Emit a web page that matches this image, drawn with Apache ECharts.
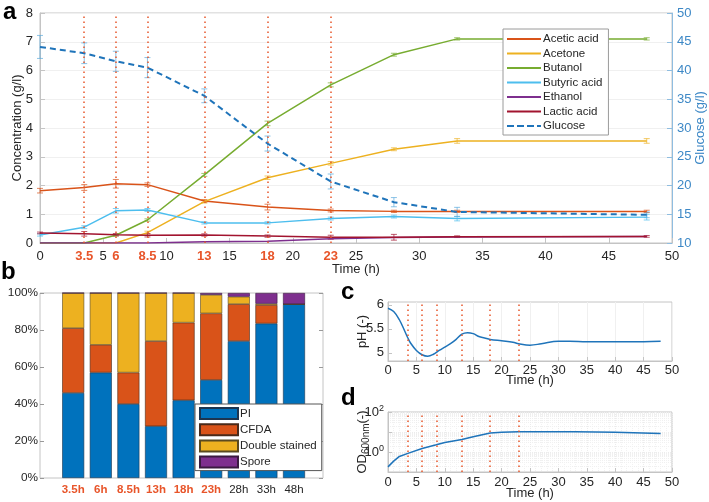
<!DOCTYPE html>
<html><head><meta charset="utf-8">
<script src="https://cdn.jsdelivr.net/npm/echarts@6/dist/echarts.min.js"></script>
<style>html,body{margin:0;padding:0;background:#fff}#c{width:709px;height:502px}</style>
</head><body><div id="c"></div>
<script>
// ---- Panel a data ----
const timeA = [0, 3.5, 6, 8.5, 13, 18, 23, 28, 33, 48];
const acetic  = [1.82, 1.93, 2.06, 2.03, 1.46, 1.25, 1.13, 1.1, 1.1, 1.1];
const acetone = [0, 0, 0, 0.36, 1.44, 2.27, 2.77, 3.26, 3.55, 3.55];
const butanol = [0, 0, 0.27, 0.8, 2.37, 4.16, 5.5, 6.55, 7.1, 7.1];
const butyric = [0.28, 0.55, 1.12, 1.15, 0.7, 0.7, 0.85, 0.92, 0.85, 0.9];
const ethanol = [0, 0, 0, 0, 0.04, 0.06, 0.15, 0.19, 0.21, 0.23];
const lactic  = [0.35, 0.32, 0.29, 0.27, 0.28, 0.24, 0.2, 0.2, 0.22, 0.23];
const glucose = [44.1, 43.0, 41.6, 40.5, 35.6, 27.3, 20.7, 17.1, 15.4, 14.9];
const glucoseErr = [2.0, 1.8, 1.75, 1.75, 1.2, 1.3, 1.3, 0.8, 0.8, 0.5];
const aceticErr  = [0.08, 0.1, 0.15, 0.06, 0.05, 0.1, 0.05, 0.04, 0.04, 0.04];
const acetoneErr = [0, 0, 0, 0.05, 0.05, 0.06, 0.06, 0.05, 0.08, 0.08];
const butanolErr = [0, 0, 0.03, 0.04, 0.05, 0.08, 0.07, 0.05, 0.04, 0.04];
const butyricErr = [0.04, 0.05, 0.08, 0.05, 0.04, 0.04, 0.05, 0.05, 0.08, 0.1];
const lacticErr  = [0.03, 0.08, 0.04, 0.06, 0.04, 0.04, 0.07, 0.1, 0.03, 0.03];
const sampleTimes = [3.5, 6, 8.5, 13, 18, 23];
const xTickLabelsA = [0, 3.5, 5, 6, 8.5, 10, 13, 15, 18, 20, 23, 25, 30, 35, 40, 45, 50];

// ---- Panel b data ----
const cats = ['3.5h', '6h', '8.5h', '13h', '18h', '23h', '28h', '33h', '48h'];
const highlighted = ['3.5h', '6h', '8.5h', '13h', '18h', '23h'];
const PI    = [46, 57, 40, 28, 42, 53, 74, 83.5, 94];
const CFDA  = [35, 15, 17, 46, 42, 36, 20, 10, 0];
const DS    = [19, 28, 43, 26, 16, 10, 4, 0.7, 0];
const Spore = [0, 0, 0, 0, 0, 1, 2, 5.8, 6];

// ---- Panel c data ----
const phT = [0,1,2,3,3.5,4,5,6,7,8,9,10,11,12,13,14,15,16,17,18,20,22,23,25,27,30,32,35,40,45,48];
const phV = [5.93,5.86,5.69,5.44,5.31,5.2,5.05,4.96,4.93,4.97,5.05,5.12,5.19,5.28,5.39,5.42,5.40,5.34,5.31,5.28,5.25,5.22,5.19,5.16,5.19,5.24,5.24,5.23,5.23,5.23,5.24];

// ---- Panel d data ----
const odT = [0,1,2,3.5,6,8.5,10,13,15,18,20,23,28,33,40,48];
const odV = [0.18,0.35,0.6,0.85,1.5,2.3,3.0,4.2,5.8,8.9,9.6,10.2,10.4,10.4,9.6,8.3];

const C = {acetic:'#D95319', acetone:'#EDB120', butanol:'#77AC30', butyric:'#4DBEEE', ethanol:'#7E2F8E', lactic:'#A2142F', glucose:'#1f74ba'};
const FONT = 'Liberation Sans, Arial, sans-serif';
const TXT = '#262626';
const AX = '#c4c4c4';
const BLUE = '#3d88c6';
const SOLID_ICON = 'path://M0,0H34V2H0Z';
const DASH_ICON = 'path://M0,0H7V2H0Z M10,0H17V2H10Z M20,0H27V2H20Z M30,0H34V2H30Z';

const pairs = (xs, ys) => xs.map((x, i) => [x, ys[i]]);
const triples = (xs, ys, es) => xs.map((x, i) => [x, ys[i], es[i]]);

function errSeries(name, ys, es, color, yAxisIndex) {
  return {
    type: 'custom', name: name + ' err', xAxisIndex: 0, yAxisIndex: yAxisIndex, z: 1, silent: true,
    data: triples(timeA, ys, es).filter(d => d[2] > 0),
    encode: {x: 0, y: 1},
    renderItem: function (params, api) {
      const x = api.value(0), y = api.value(1), e = api.value(2);
      const top = api.coord([x, y + e]);
      const bot = api.coord([x, y - e]);
      const w = 3;
      const st = {stroke: color, lineWidth: 1, opacity: 0.7};
      return {type: 'group', children: [
        {type: 'line', shape: {x1: top[0], y1: top[1], x2: bot[0], y2: bot[1]}, style: st},
        {type: 'line', shape: {x1: top[0]-w, y1: top[1], x2: top[0]+w, y2: top[1]}, style: st},
        {type: 'line', shape: {x1: bot[0]-w, y1: bot[1], x2: bot[0]+w, y2: bot[1]}, style: st}
      ]};
    }
  };
}

function lineSeries(name, ys, color, yAxisIndex, dashed) {
  return {
    type: 'line', name: name, xAxisIndex: 0, yAxisIndex: yAxisIndex, data: pairs(timeA, ys),
    symbol: 'none', z: 3,
    lineStyle: {color: color, width: dashed ? 2 : 1.5, type: dashed ? [6, 4] : 'solid'},
    itemStyle: {color: color}
  };
}

const vLineMark = () => ({
  silent: true, symbol: 'none',
  lineStyle: {color: '#e8552a', type: [1.5, 3.5], width: 1.5},
  label: {show: false},
  data: sampleTimes.map(t => ({xAxis: t}))
});

const labelStyle = {fontFamily: FONT, fontSize: 13, color: TXT};
const gridBase = {outerBoundsMode: 'none', containLabel: false};

const option = {
  animation: false,
  textStyle: {fontFamily: FONT},
  graphic: [
    {type: 'text', left: 3, top: 0, style: {text: 'a', font: 'bold 24px ' + FONT, fill: '#000'}},
    {type: 'text', left: 1, top: 260, style: {text: 'b', font: 'bold 24px ' + FONT, fill: '#000'}},
    {type: 'text', left: 341, top: 280, style: {text: 'c', font: 'bold 24px ' + FONT, fill: '#000'}},
    {type: 'text', left: 341, top: 386, style: {text: 'd', font: 'bold 24px ' + FONT, fill: '#000'}}
  ],
  grid: [
    {...gridBase, left: 40, top: 13, width: 632, height: 230, show: true, borderColor: AX, borderWidth: 1},
    {...gridBase, left: 40, top: 293, width: 283, height: 185, show: true, borderColor: AX, borderWidth: 1},
    {...gridBase, left: 59.4, top: 293, width: 248.4, height: 185},
    {...gridBase, left: 388, top: 302, width: 284, height: 59, show: true, borderColor: AX, borderWidth: 1},
    {...gridBase, left: 388, top: 412, width: 284, height: 60, show: true, borderColor: AX, borderWidth: 1}
  ],
  legend: [
    {
      data: [
        {name: 'Acetic acid', icon: SOLID_ICON}, {name: 'Acetone', icon: SOLID_ICON},
        {name: 'Butanol', icon: SOLID_ICON}, {name: 'Butyric acid', icon: SOLID_ICON},
        {name: 'Ethanol', icon: SOLID_ICON}, {name: 'Lactic acid', icon: SOLID_ICON},
        {name: 'Glucose', icon: DASH_ICON}
      ],
      orient: 'vertical', left: 503, top: 29, padding: [4, 6, 3, 4], itemGap: 2.5,
      itemWidth: 34, itemHeight: 12, backgroundColor: '#fff', borderColor: '#9a9a9a', borderWidth: 1,
      textStyle: {fontFamily: FONT, fontSize: 11.5, color: TXT, padding: [0, 0, 0, -3]}
    },
    {
      data: ['PI', 'CFDA', 'Double stained', 'Spore'],
      orient: 'vertical', left: 195, top: 404, padding: [3, 5, 2, 4], itemGap: 3.2,
      itemWidth: 38, itemHeight: 11, icon: 'rect', backgroundColor: '#fff', borderColor: '#555', borderWidth: 1,
      textStyle: {fontFamily: FONT, fontSize: 11.5, color: TXT, padding: [0, 0, 0, -3]}
    }
  ],
  xAxis: [
    { // a
      gridIndex: 0, type: 'value', min: 0, max: 50, interval: 5,
      name: 'Time (h)', nameLocation: 'middle', nameGap: 20, nameMoveOverlap: false, nameTextStyle: labelStyle,
      axisLine: {lineStyle: {color: AX}}, axisTick: {inside: true, length: 5, lineStyle: {color: AX}},
      axisLabel: {
        customValues: xTickLabelsA, margin: 7, fontFamily: FONT, fontSize: 13, color: TXT,
        formatter: v => sampleTimes.indexOf(v) >= 0 ? '{r|' + v + '}' : String(v),
        rich: {r: {color: '#e8552a', fontWeight: 'bold', fontSize: 13, fontFamily: FONT}}
      },
      splitLine: {show: false}
    },
    { // b category
      gridIndex: 2, type: 'category', data: cats,
      axisLine: {show: false}, axisTick: {show: false},
      axisLabel: {
        interval: 0, margin: 6, fontFamily: FONT, fontSize: 11.5, color: TXT,
        formatter: v => highlighted.indexOf(v) >= 0 ? '{r|' + v + '}' : v,
        rich: {r: {color: '#e8552a', fontWeight: 'bold', fontSize: 11.5, fontFamily: FONT}}
      }
    },
    { // c
      gridIndex: 3, type: 'value', min: 0, max: 50, interval: 5,
      name: 'Time (h)', nameLocation: 'middle', nameGap: 12.5, nameMoveOverlap: false, nameTextStyle: labelStyle,
      axisLine: {lineStyle: {color: AX}}, axisTick: {inside: true, length: 4, lineStyle: {color: AX}},
      axisLabel: {margin: 3, fontFamily: FONT, fontSize: 13, color: TXT},
      splitLine: {show: true, lineStyle: {color: '#f0f0f0'}}
    },
    { // d
      gridIndex: 4, type: 'value', min: 0, max: 50, interval: 5,
      name: 'Time (h)', nameLocation: 'middle', nameGap: 14.5, nameMoveOverlap: false, nameTextStyle: labelStyle,
      axisLine: {lineStyle: {color: AX}}, axisTick: {inside: true, length: 4, lineStyle: {color: AX}},
      axisLabel: {margin: 4, fontFamily: FONT, fontSize: 13, color: TXT},
      splitLine: {show: true, lineStyle: {color: '#ececec', type: 'dotted'}},
      minorTick: {show: false, splitNumber: 5},
      minorSplitLine: {show: true, lineStyle: {color: '#f2f2f2', type: 'dotted'}}
    }
  ],
  yAxis: [
    { // a left
      gridIndex: 0, type: 'value', min: 0, max: 8, interval: 1,
      name: 'Concentration (g/l)', nameLocation: 'middle', nameGap: 16, nameMoveOverlap: false, nameTextStyle: labelStyle,
      axisLine: {show: true, lineStyle: {color: AX}}, axisTick: {show: true, inside: true, length: 5, lineStyle: {color: AX}},
      axisLabel: {margin: 7, fontFamily: FONT, fontSize: 13, color: TXT},
      splitLine: {show: true, lineStyle: {color: '#f0f0f0'}}
    },
    { // a right
      gridIndex: 0, type: 'value', min: 10, max: 50, interval: 5, position: 'right',
      name: 'Glucose (g/l)', nameLocation: 'middle', nameGap: 22, nameRotate: 90, nameMoveOverlap: false,
      nameTextStyle: {fontFamily: FONT, fontSize: 13, color: BLUE},
      axisLine: {show: true, lineStyle: {color: '#8fbde0'}}, axisTick: {show: true, inside: true, length: 5, lineStyle: {color: '#8fbde0'}},
      axisLabel: {margin: 5, fontFamily: FONT, fontSize: 13, color: BLUE},
      splitLine: {show: false}
    },
    { // b left
      gridIndex: 2, type: 'value', min: 0, max: 100, interval: 20, offset: 19.4,
      axisLine: {show: false}, axisTick: {show: true, inside: true, length: 4, lineStyle: {color: '#999'}},
      axisLabel: {margin: 2, fontFamily: FONT, fontSize: 11.8, color: TXT, formatter: '{value}%'},
      splitLine: {show: false}
    },
    { // b right ticks
      gridIndex: 2, type: 'value', min: 0, max: 100, interval: 20, offset: 15.2, position: 'right',
      axisLine: {show: false}, axisTick: {show: true, inside: true, length: 4, lineStyle: {color: '#999'}},
      axisLabel: {show: false}, splitLine: {show: false}
    },
    { // c
      gridIndex: 3, type: 'value', min: 4.83, max: 6.06,
      name: 'pH (-)', nameLocation: 'middle', nameGap: 19, nameMoveOverlap: false, nameTextStyle: labelStyle,
      axisLine: {show: true, lineStyle: {color: AX}},
      axisTick: {show: true, inside: true, length: 4, customValues: [5, 5.5, 6], lineStyle: {color: AX}},
      axisLabel: {margin: 4, fontFamily: FONT, fontSize: 13, color: TXT, customValues: [5, 5.5, 6]},
      splitLine: {show: false}
    },
    { // d
      gridIndex: 4, type: 'log', logBase: 10, min: 0.1, max: 100,
      name: '{a|OD}{s|600nm}{a|(-)}', nameLocation: 'middle', nameGap: 17, nameMoveOverlap: false,
      nameTextStyle: {fontFamily: FONT, fontSize: 13, color: TXT,
        rich: {a: {fontFamily: FONT, fontSize: 13, color: TXT}, s: {fontFamily: FONT, fontSize: 10, color: TXT, verticalAlign: 'bottom', padding: [8, 0, 0, 0]}}},
      axisLine: {show: true, lineStyle: {color: AX}},
      axisTick: {show: true, inside: true, length: 4, lineStyle: {color: AX}},
      axisLabel: {margin: 4, fontFamily: FONT, fontSize: 13, color: TXT, customValues: [1, 100],
        formatter: v => (Math.abs(v - 1) < 1e-6 ? '10{s|0}' : (Math.abs(v - 100) < 1e-6 ? '10{s|2}' : '')),
        rich: {s: {fontSize: 9, fontFamily: FONT, color: TXT, verticalAlign: 'top', padding: [0, 0, 7, 0]}}},
      splitLine: {show: true, lineStyle: {color: '#ececec', type: 'dotted'}},
      minorTick: {show: false, splitNumber: 9},
      minorSplitLine: {show: true, lineStyle: {color: '#f0f0f0', type: 'dotted'}}
    }
  ],
  series: [
    {type: 'line', name: 'vlines-a', xAxisIndex: 0, yAxisIndex: 0, data: [], z: 1, markLine: vLineMark()},
    errSeries('Acetic acid', acetic, aceticErr, C.acetic, 0),
    errSeries('Acetone', acetone, acetoneErr, C.acetone, 0),
    errSeries('Butanol', butanol, butanolErr, C.butanol, 0),
    errSeries('Butyric acid', butyric, butyricErr, C.butyric, 0),
    errSeries('Lactic acid', lactic, lacticErr, C.lactic, 0),
    errSeries('Glucose', glucose, glucoseErr, '#5aa9dc', 1),
    lineSeries('Acetic acid', acetic, C.acetic, 0),
    lineSeries('Acetone', acetone, C.acetone, 0),
    lineSeries('Butanol', butanol, C.butanol, 0),
    lineSeries('Butyric acid', butyric, C.butyric, 0),
    lineSeries('Ethanol', ethanol, C.ethanol, 0),
    lineSeries('Lactic acid', lactic, C.lactic, 0),
    lineSeries('Glucose', glucose, C.glucose, 1, true),
    // panel b
    {type: 'bar', name: 'PI', stack: 'b', xAxisIndex: 1, yAxisIndex: 2, data: PI, barWidth: 22,
     itemStyle: {color: '#0072BD', borderColor: '#1d3550', borderWidth: 0.6}},
    {type: 'bar', name: 'CFDA', stack: 'b', xAxisIndex: 1, yAxisIndex: 2, data: CFDA, barWidth: 22,
     itemStyle: {color: '#D95319', borderColor: '#4a2a1a', borderWidth: 0.6}},
    {type: 'bar', name: 'Double stained', stack: 'b', xAxisIndex: 1, yAxisIndex: 2, data: DS, barWidth: 22,
     itemStyle: {color: '#EDB120', borderColor: '#5a4a20', borderWidth: 0.6}},
    {type: 'bar', name: 'Spore', stack: 'b', xAxisIndex: 1, yAxisIndex: 2, data: Spore, barWidth: 22,
     itemStyle: {color: '#7E2F8E', borderColor: '#3a1a40', borderWidth: 0.6}},
    // panel c
    {type: 'line', name: 'pH', xAxisIndex: 2, yAxisIndex: 4, data: pairs(phT, phV), smooth: 0.4, symbol: 'none',
     lineStyle: {color: '#1f74ba', width: 1.5}, markLine: vLineMark()},
    // panel d
    {type: 'line', name: 'OD', xAxisIndex: 3, yAxisIndex: 5, data: pairs(odT, odV), symbol: 'none',
     lineStyle: {color: '#1f74ba', width: 1.5}, markLine: vLineMark()}
  ]
};

const chart = echarts.init(document.getElementById('c'), null, {renderer: 'canvas'});
chart.setOption(option);
</script>
</body></html>
